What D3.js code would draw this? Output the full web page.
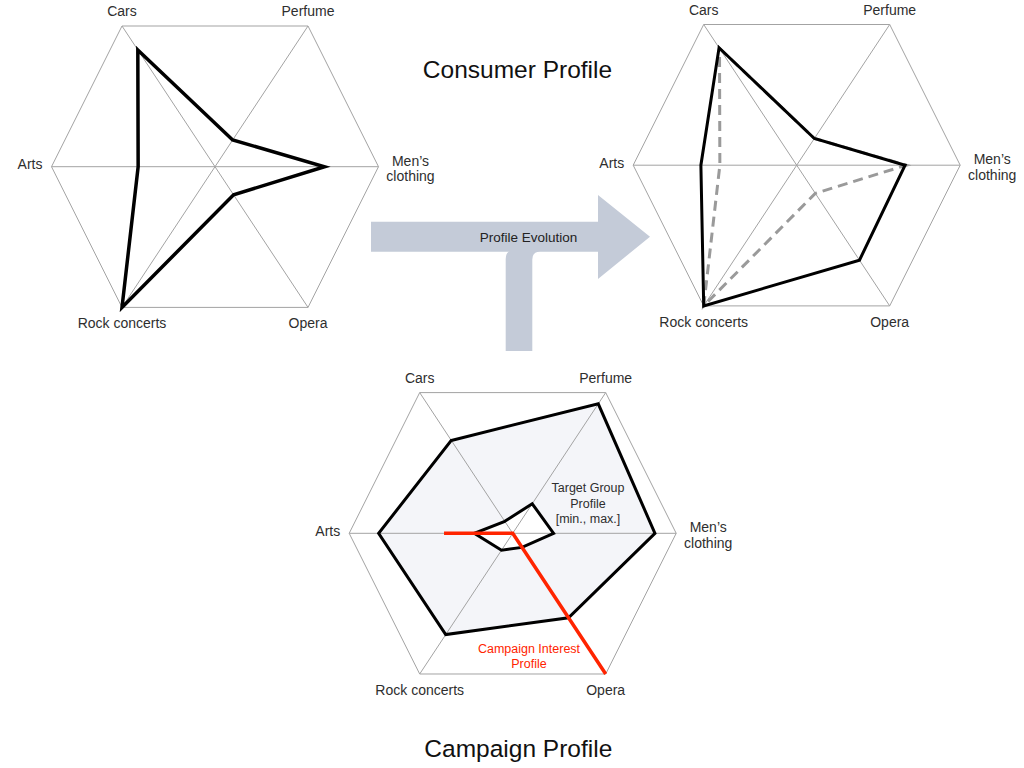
<!DOCTYPE html>
<html>
<head>
<meta charset="utf-8">
<script src="https://cdn.jsdelivr.net/npm/d3@7"></script>
<style>
  html, body { margin: 0; padding: 0; background: #fff; }
  svg { display: block; font-family: "Liberation Sans", Arial, Helvetica, sans-serif; }
</style>
</head>
<body>
<svg id="chart" width="1024" height="768"></svg>
<script>
// ---------- DATA ----------
const categories = ["Cars", "Perfume", "Men’s clothing", "Opera", "Rock concerts", "Arts"];
const consumerBefore = [0.83, 0.19, 0.67, 0.20, 1.00, 0.47];
const consumerAfter  = [0.835, 0.19, 0.663, 0.675, 1.00, 0.586];
const targetMax      = [0.66, 0.92, 0.87, 0.60, 0.72, 0.82];
const targetMin      = [0.085, 0.21, 0.25, 0.10, 0.12, 0.235];
const campaignInterest = [0, 0, 0, 1.00, 0, 0.42];
const titles = ["Consumer Profile", "Campaign Profile"];
const arrowLabel = "Profile Evolution";
const targetLabel = ["Target Group", "Profile", "[min., max.]"];
const campaignLabel = ["Campaign Interest", "Profile"];

// ---------- LAYOUT ----------
const svg = d3.select("#chart");
const HX = 163.5, TX = 93, TY = 140.7;
const axisVec = [[-TX, -TY], [TX, -TY], [HX, 0], [TX, TY], [-TX, TY], [-HX, 0]];
const r = d3.scaleLinear().domain([0, 1]).range([0, 1]);
const gridColor = "#a3a3a3";
const textColor = "#2e2e2e";

function makeRadar(cx, cy) {
  const g = svg.append("g").attr("transform", `translate(${cx},${cy})`);
  const pt = (v, i) => [axisVec[i][0] * r(v), axisVec[i][1] * r(v)];
  const closed = d3.line().curve(d3.curveLinearClosed);
  const open = d3.line();
  return {
    g,
    poly(values) { return closed(values.map(pt)); },
    path(values, idx) { return open(idx.map(i => pt(values[i], i))); },
    grid() {
      const gg = g.append("g");
      gg.append("path")
        .attr("d", closed(categories.map((c, i) => pt(1, i))))
        .attr("fill", "none").attr("stroke", gridColor).attr("stroke-width", 1);
      [0, 1, 2].forEach(i => {
        gg.append("line")
          .attr("x1", axisVec[i][0] * r(1)).attr("y1", axisVec[i][1] * r(1))
          .attr("x2", axisVec[i + 3][0] * r(1)).attr("y2", axisVec[i + 3][1] * r(1))
          .attr("stroke", gridColor).attr("stroke-width", 1);
      });
    },
    labels() {
      const lg = g.append("g").attr("font-size", 14).attr("fill", textColor);
      categories.forEach((c, i) => {
        const [vx, vy] = pt(1, i);
        if (i === 0 || i === 1) {
          lg.append("text").attr("x", vx).attr("y", vy - 10).attr("text-anchor", "middle").text(c);
        } else if (i === 3 || i === 4) {
          lg.append("text").attr("x", vx).attr("y", vy + 21).attr("text-anchor", "middle").text(c);
        } else if (i === 5) {
          lg.append("text").attr("x", vx - 9).attr("y", vy + 2.5).attr("text-anchor", "end").text(c);
        } else {
          const words = c.split(" ");
          const t = lg.append("text").attr("text-anchor", "middle");
          words.forEach((w, k) => {
            t.append("tspan").attr("x", vx + 32).attr("y", vy - 1 + k * 15.5).text(w);
          });
        }
      });
    }
  };
}

// ---------- Chart 1: consumer profile (before) ----------
const c1 = makeRadar(215, 166.7);
c1.grid();
c1.g.append("path").attr("d", c1.poly(consumerBefore))
  .attr("fill", "none").attr("stroke", "#000").attr("stroke-width", 3.5).attr("stroke-linejoin", "miter");
c1.labels();

// ---------- Chart 2: consumer profile (after) ----------
const c2 = makeRadar(796.7, 165.2);
c2.grid();
c2.g.append("path").attr("d", c2.poly(consumerBefore))
  .attr("fill", "none").attr("stroke", "#9a9a9a").attr("stroke-width", 3)
  .attr("stroke-dasharray", "10,6");
c2.g.append("path").attr("d", c2.poly(consumerAfter))
  .attr("fill", "none").attr("stroke", "#000").attr("stroke-width", 3);
c2.labels();

// ---------- Chart 3: campaign profile ----------
const c3 = makeRadar(512.7, 533.3);
c3.g.append("path").attr("d", c3.poly(targetMax)).attr("fill", "#f4f5f9");
c3.g.append("path").attr("d", c3.poly(targetMin)).attr("fill", "#ffffff");
c3.grid();
c3.g.append("path").attr("d", c3.poly(targetMax))
  .attr("fill", "none").attr("stroke", "#000").attr("stroke-width", 3);
c3.g.append("path").attr("d", c3.poly(targetMin))
  .attr("fill", "none").attr("stroke", "#000").attr("stroke-width", 3);
c3.g.append("path").attr("d", c3.path(campaignInterest, [5, 4, 3]))
  .attr("fill", "none").attr("stroke", "#ff2400").attr("stroke-width", 3.5);
c3.labels();

// annotations in chart 3
const tg = svg.append("text").attr("font-size", 12.5).attr("fill", textColor).attr("text-anchor", "middle");
targetLabel.forEach((s, k) => tg.append("tspan").attr("x", 588).attr("y", 492 + k * 15.7).text(s));
const cg = svg.append("text").attr("font-size", 12.5).attr("fill", "#ff2400").attr("text-anchor", "middle");
campaignLabel.forEach((s, k) => cg.append("tspan").attr("x", 529).attr("y", 652.5 + k * 15.7).text(s));

// ---------- Arrow ----------
const arrowPath = [
  "M371,221.7", "H598", "V195", "L650,236.7", "L598,279", "V251.7",
  "H540", "Q532.3,251.7 532.3,259.5", "V351", "H505.7", "V259",
  "Q506,252 509.5,251.7", "H371", "Z"
].join(" ");
svg.append("path").attr("d", arrowPath).attr("fill", "#c4cbd8");
svg.append("text").attr("x", 528.5).attr("y", 241.5).attr("text-anchor", "middle")
  .attr("font-size", 13.5).attr("fill", "#222").text(arrowLabel);

// ---------- Titles ----------
svg.append("text").attr("x", 517.5).attr("y", 78).attr("text-anchor", "middle")
  .attr("font-size", 24.5).attr("fill", "#111").text(titles[0]);
svg.append("text").attr("x", 518.3).attr("y", 757).attr("text-anchor", "middle")
  .attr("font-size", 24.5).attr("fill", "#111").text(titles[1]);
</script>
</body>
</html>
